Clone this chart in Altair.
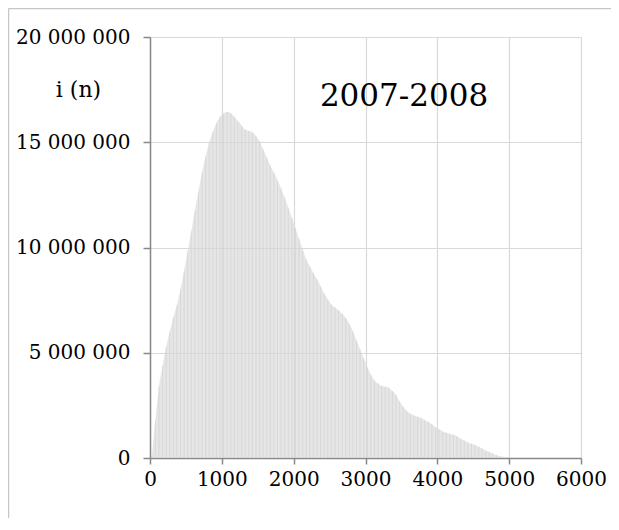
import altair as alt
import pandas as pd

# Histogram: width of each bin (n units) and the value i(n) per bin (millions)
BIN_WIDTH = 50
values_m = [
    0.10, 1.80, 3.41, 4.38, 5.28, 6.01, 6.68, 7.27, 8.03, 8.89,
    9.83, 10.78, 11.74, 12.67, 13.57, 14.32, 15.00, 15.50, 15.92, 16.20,
    16.38, 16.45, 16.38, 16.21, 16.00, 15.80, 15.60, 15.54, 15.47, 15.30,
    15.06, 14.67, 14.29, 13.90, 13.55, 13.20, 12.80, 12.37, 11.90, 11.43,
    10.92, 10.41, 9.90, 9.44, 9.11, 8.79, 8.49, 8.16, 7.82, 7.54,
    7.29, 7.15, 7.02, 6.85, 6.65, 6.36, 6.02, 5.59, 5.16, 4.74,
    4.31, 3.97, 3.68, 3.54, 3.42, 3.39, 3.34, 3.18, 2.99, 2.69,
    2.44, 2.24, 2.10, 2.02, 1.96, 1.90, 1.81, 1.72, 1.60, 1.47,
    1.36, 1.26, 1.20, 1.15, 1.11, 1.03, 0.92, 0.83, 0.74, 0.68,
    0.62, 0.53, 0.45, 0.36, 0.28, 0.20, 0.14, 0.08, 0.05, 0.03,
    0.01,
]
x_ticks = [0, 1000, 2000, 3000, 4000, 5000, 6000]
y_ticks = [0, 5_000_000, 10_000_000, 15_000_000, 20_000_000]
label_text = ["2007-2008"]
label_x = [3536]
label_y = [16_700_000]

FONT = "DejaVu Serif"

df = pd.DataFrame({
    "mid": [i * BIN_WIDTH + BIN_WIDTH / 2 for i in range(len(values_m))],
    "value": [v * 1_000_000 for v in values_m],
})
df_label = pd.DataFrame({"text": label_text, "x": label_x, "y": label_y})

x_scale = alt.Scale(domain=[0, 6000], nice=False)
y_scale = alt.Scale(domain=[0, 20_000_000], nice=False)

x_axis = alt.Axis(values=x_ticks, title=None, grid=True, format="d",
                  labelOverlap=False, labelFlush=False,
                  labelFont=FONT, labelFontSize=20, labelColor="#000",
                  domainColor="#888", domainWidth=1.5, tickColor="#888",
                  tickSize=6, tickWidth=1.5, labelPadding=5,
                  gridColor="#d9d9d9", gridWidth=1.2)
y_axis = alt.Axis(values=y_ticks, grid=True, title="i (n)",
                  labelOverlap=False, labelFlush=False,
                  labelExpr="replace(format(datum.value, ','), regexp(',', 'g'), ' ')",
                  labelFont=FONT, labelFontSize=20, labelColor="#000",
                  domainColor="#888", domainWidth=1.5, tickColor="#888",
                  tickSize=7, tickWidth=1.5, labelPadding=13,
                  gridColor="#d9d9d9", gridWidth=1.2,
                  titleAngle=0, titleX=-72, titleY=59, titleFont=FONT,
                  titleFontSize=22, titleFontWeight="normal",
                  titleAlign="center", titleBaseline="alphabetic",
                  titleColor="#000")

area = alt.Chart(df).mark_area(
    color="#d9d9d9", opacity=0.65, interpolate="monotone"
).encode(
    x=alt.X("mid:Q", scale=x_scale, axis=x_axis),
    y=alt.Y("value:Q", scale=y_scale, axis=y_axis),
)

stripes = alt.Chart(df).mark_rule(color="#c4c4c4", opacity=0.4, strokeWidth=1).encode(
    x=alt.X("mid:Q", scale=x_scale),
    y=alt.Y("value:Q", scale=y_scale),
    y2=alt.datum(0),
)

annot = alt.Chart(df_label).mark_text(
    font=FONT, fontSize=31, color="#000", align="center", baseline="alphabetic"
).encode(
    x=alt.X("x:Q", scale=x_scale),
    y=alt.Y("y:Q", scale=y_scale),
    text="text:N",
)

frame_top = alt.Chart(df_label).mark_rule(color="#c6c6c6", strokeWidth=1.5).encode(
    x=alt.value(-141.5), x2=alt.value(470), y=alt.value(-28.5)
)
frame_left = alt.Chart(df_label).mark_rule(color="#c6c6c6", strokeWidth=1.5).encode(
    x=alt.value(-141.5), y=alt.value(-28.5), y2=alt.value(490)
)

chart = alt.layer(area, stripes, annot, frame_top, frame_left).properties(
    width=431, height=421,
    autosize=alt.AutoSizeParams(type="none"),
    padding={"left": 142, "top": 29, "right": 30, "bottom": 60},
).configure_view(stroke=None)

chart.save("out.html", embed_options={"renderer": "svg", "actions": False})
